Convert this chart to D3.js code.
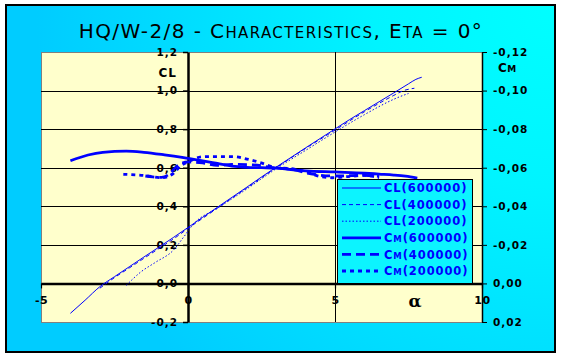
<!DOCTYPE html>
<html><head><meta charset="utf-8">
<script src="https://cdn.jsdelivr.net/npm/d3@7"></script>
<style>body{margin:0;background:#fff}svg{display:block}</style>
</head><body><svg id="c" width="561" height="359"></svg>
<script>
// ---- data ----
const titleText = "HQ/W-2/8 - Characteristics, Eta = 0°";
const xTicks = [-5, 0, 5, 10];
const clTicks = [-0.2, 0, 0.2, 0.4, 0.6, 0.8, 1.0, 1.2];
const cmTicks = [0.02, 0, -0.02, -0.04, -0.06, -0.08, -0.10, -0.12];

const alphaCL600 = [-4.0,-3.5,-3.0,-2.5,-2.0,-1.5,-1.0,-0.5,0.0,0.5,1.0,1.5,2.0,2.5,3.0,3.5,4.0,4.5,5.0,5.5,6.0,6.5,7.0,7.5,7.75,7.95];
const cl600 = [-0.155,-0.087,-0.017,0.035,0.086,0.137,0.187,0.238,0.29,0.343,0.395,0.447,0.499,0.552,0.603,0.653,0.703,0.752,0.801,0.85,0.896,0.942,0.988,1.035,1.058,1.069];

const alphaCL400 = [-3.0,-2.5,-2.0,-1.5,-1.0,-0.5,0.0,1.0,2.0,3.0,4.0,5.0,6.0,7.0,7.3,7.7];
const cl400 = [-0.025,0.03,0.08,0.13,0.18,0.23,0.285,0.39,0.495,0.6,0.7,0.795,0.89,0.975,0.998,1.012];

const alphaCL200 = [-2.1,-1.6,-1.1,-0.5,-0.15,0.2,1.0,2.0,3.0,4.0,5.0,6.0,7.0,7.2,7.5];
const cl200 = [-0.01,0.06,0.11,0.172,0.24,0.31,0.39,0.49,0.595,0.69,0.785,0.875,0.955,0.968,0.985];

const alphaCM600 = [-4.0,-3.4,-2.9,-2.1,-1.5,-0.8,-0.2,0.5,1.0,1.5,2.0,2.5,3.0,3.5,4.0,5.0,6.0,6.5,7.0,7.4,7.8];
const cm600 = [-0.0636,-0.0666,-0.0680,-0.0686,-0.0680,-0.0667,-0.0654,-0.0636,-0.0622,-0.0608,-0.0602,-0.0600,-0.0598,-0.0590,-0.0584,-0.0578,-0.0572,-0.0567,-0.0562,-0.0556,-0.0546];

const alphaCM400 = [-1.45,-1.2,-0.9,-0.65,-0.4,0.0,0.5,1.0,1.5,2.2,2.9,3.5,4.3,5.0,6.0,6.5];
const cm400 = [-0.0557,-0.0552,-0.0550,-0.0565,-0.0605,-0.0630,-0.0625,-0.0612,-0.0617,-0.0615,-0.0600,-0.0592,-0.0565,-0.0557,-0.0560,-0.0555];

const alphaCM200 = [-2.2,-1.5,-0.9,-0.5,-0.25,0.0,0.5,1.0,1.6,2.0,2.45,3.0,3.5,4.0,4.4,4.9,5.5,6.0,6.5];
const cm200 = [-0.0566,-0.0560,-0.0548,-0.0570,-0.0610,-0.0630,-0.0657,-0.0658,-0.0657,-0.0645,-0.0627,-0.0600,-0.0595,-0.0580,-0.0558,-0.0548,-0.0555,-0.0560,-0.0548];

const legendNames = ["CL(600000)","CL(400000)","CL(200000)","CM(600000)","CM(400000)","CM(200000)"];

// ---- drawing ----
const svg = d3.select("#c");
const defs = svg.append("defs");
const rg = defs.append("radialGradient").attr("id","bg").attr("gradientUnits","userSpaceOnUse")
  .attr("cx",556).attr("cy",5).attr("r",520);
rg.append("stop").attr("offset","0").attr("stop-color","#00ffff");
rg.append("stop").attr("offset","0.35").attr("stop-color","#00f4ff");
rg.append("stop").attr("offset","1").attr("stop-color","#00ccff");

svg.append("rect").attr("x",6).attr("y",5).attr("width",549).attr("height",347)
  .attr("fill","url(#bg)").attr("stroke","#000").attr("stroke-width",2);

const x = d3.scaleLinear([-5,10],[41,482]);
const yCL = d3.scaleLinear([-0.2,1.2],[322,52]);
const yCm = d3.scaleLinear([0.02,-0.12],[322,52]);

// plot area
svg.append("rect").attr("x",x(-5)+0.5).attr("y",yCL(1.2)+0.5).attr("width",x(10)-x(-5)).attr("height",yCL(-0.2)-yCL(1.2))
  .attr("fill","#ffffcc").attr("stroke","#808080").attr("stroke-width",1);

const fmt1 = v => d3.format(".1f")(v).replace("−","-").replace(".",",");
const fmt2 = v => d3.format(".2f")(v).replace("−","-").replace(".",",");
const lblFont = "'DejaVu Sans', sans-serif";

// horizontal gridlines
svg.append("g").selectAll("line").data(clTicks.filter(v=>v>0 && v<1.2)).join("line")
  .attr("x1",x(-5)).attr("x2",x(10)).attr("y1",d=>Math.round(yCL(d))+0.5).attr("y2",d=>Math.round(yCL(d))+0.5)
  .attr("stroke","#000").attr("stroke-width",1);
// vertical gridline at 5
svg.append("line").attr("x1",Math.round(x(5))+0.5).attr("x2",Math.round(x(5))+0.5).attr("y1",yCL(1.2)).attr("y2",yCL(-0.2))
  .attr("stroke","#000").attr("stroke-width",1);

// left CL axis at alpha = 0
const gL = svg.append("g").attr("transform",`translate(${x(0)},0)`)
  .call(d3.axisLeft(yCL).tickValues(clTicks).tickSize(5).tickSizeOuter(0).tickFormat(fmt1));
gL.select(".domain").attr("stroke-width",2.5);
gL.selectAll(".tick line").attr("stroke-width",1.5);
gL.selectAll("text").attr("font-family",lblFont).attr("font-weight","bold").attr("font-size",10.5)
  .attr("letter-spacing",1).attr("x",-10).attr("fill","#000");

// right Cm axis
const gR = svg.append("g").attr("transform",`translate(${x(10)},0)`)
  .call(d3.axisRight(yCm).tickValues(cmTicks).tickSize(5).tickSizeOuter(0).tickFormat(fmt2));
gR.select(".domain").attr("stroke-width",1.5);
gR.selectAll("text").attr("font-family",lblFont).attr("font-weight","bold").attr("font-size",10.5)
  .attr("letter-spacing",1).attr("x",11).attr("fill","#000");

// x axis at CL = 0
const gX = svg.append("g").attr("transform",`translate(0,${yCL(0)})`)
  .call(d3.axisBottom(x).tickValues(xTicks).tickSize(5).tickSizeOuter(0).tickFormat(d=>String(d)));
gX.select(".domain").attr("stroke-width",2.5);
gX.selectAll(".tick line").attr("stroke-width",1.2);
gX.selectAll("text").attr("font-family",lblFont).attr("font-weight","bold").attr("font-size",11)
  .attr("letter-spacing",0.5).attr("y",13).attr("fill","#000");

// axis titles
svg.append("text").attr("x",177).attr("y",77).attr("text-anchor","end")
  .attr("font-family",lblFont).attr("font-weight","bold").attr("font-size",12).attr("letter-spacing",1).text("CL");
const cmT = svg.append("text").attr("x",498).attr("y",72)
  .attr("font-family",lblFont).attr("font-weight","bold").attr("font-size",12).attr("letter-spacing",0.5);
cmT.append("tspan").text("C"); cmT.append("tspan").attr("font-size",9).text("M");
svg.append("text").attr("x",415).attr("y",307).attr("text-anchor","middle")
  .attr("font-family","'DejaVu Serif', serif").attr("font-weight","bold").attr("font-size",17).text("α");

// title with small caps
const t = svg.append("text").attr("x",281).attr("y",38).attr("text-anchor","middle")
  .attr("font-family","'DejaVu Sans', sans-serif").attr("font-size",20).attr("fill","#000").attr("letter-spacing",1.4);
let buf = "", small = null;
for (const ch of titleText) {
  const isLower = ch !== ch.toUpperCase();
  if (small === null) small = isLower;
  if (isLower !== small) { t.append("tspan").attr("font-size", small?15:20).text(small?buf.toUpperCase():buf); buf=""; small=isLower; }
  buf += ch;
}
t.append("tspan").attr("font-size", small?15:20).text(small?buf.toUpperCase():buf);

// series
const blue = "#0000ff";
const series = [
  {a:alphaCL600, v:cl600, y:yCL, w:1, dash:null},
  {a:alphaCL400, v:cl400, y:yCL, w:1, dash:"4,3"},
  {a:alphaCL200, v:cl200, y:yCL, w:1, dash:"1.5,2"},
  {a:alphaCM600, v:cm600, y:yCm, w:2.8, dash:null},
  {a:alphaCM400, v:cm400, y:yCm, w:2.8, dash:"9,5"},
  {a:alphaCM200, v:cm200, y:yCm, w:2.8, dash:"4,4"}
];
const gS = svg.append("g");
series.forEach(s => {
  const pts = s.a.map((a,i)=>[a, s.v[i]]);
  gS.append("path").datum(pts)
    .attr("d", d3.line().x(d=>x(d[0])).y(d=>s.y(d[1])).curve(d3.curveMonotoneX))
    .attr("fill","none").attr("stroke",blue).attr("stroke-width",s.w)
    .attr("stroke-dasharray",s.dash);
});

// legend
const lg = svg.append("g");
lg.append("rect").attr("x",337.5).attr("y",179.5).attr("width",135).attr("height",104)
  .attr("fill","#0cf4ff").attr("stroke","#000").attr("stroke-width",1);
const rowY = d3.scaleLinear([0,5],[188,271]);
series.forEach((s,i) => {
  lg.append("line").attr("x1",342).attr("x2",381).attr("y1",rowY(i)).attr("y2",rowY(i))
    .attr("stroke",blue).attr("stroke-width",s.w).attr("stroke-dasharray",s.dash);
  const tx = lg.append("text").attr("x",384).attr("y",rowY(i)).attr("dy","0.36em")
    .attr("font-family",lblFont).attr("font-weight","bold").attr("font-size",11.5)
    .attr("fill",blue).attr("letter-spacing",0.9);
  const name = legendNames[i];
  tx.append("tspan").text(name[0]);
  tx.append("tspan").attr("font-size", name[1]==="M"?8.5:11.5).text(name[1]);
  tx.append("tspan").text(name.slice(2));
});
</script></body></html>
